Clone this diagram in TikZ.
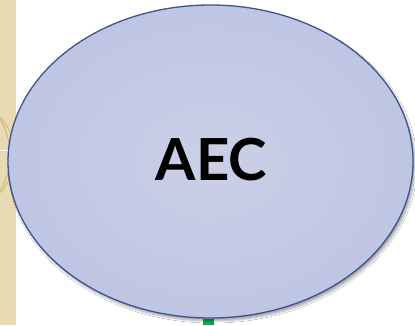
\documentclass[tikz,border=0pt]{standalone}
\usepackage{fontspec}
\setmainfont{Lato}
\usetikzlibrary{shapes.geometric,shadows.blur}
\definecolor{tanbg}{RGB}{232,218,178}
\definecolor{tanline}{RGB}{200,180,130}
\definecolor{ellfill}{RGB}{190,198,228}
\definecolor{ellcenter}{RGB}{203,208,230}
\definecolor{ellborder}{RGB}{62,84,142}
\definecolor{greenmark}{RGB}{0,176,80}
\tikzset{
  bubble/.style={ellipse, draw=ellborder, line width=1.3pt, inner color=ellcenter, outer color=ellfill,
    minimum width=405pt, minimum height=313pt, inner sep=0pt,
    blur shadow={shadow xshift=2pt, shadow yshift=-3pt, shadow blur steps=8, shadow opacity=35},
    font=\bfseries\fontsize{58}{58}\selectfont},
}
\begin{document}
\begin{tikzpicture}[x=1pt,y=1pt]
\useasboundingbox (0,0) rectangle (415,325);
\fill[white] (0,0) rectangle (415,325);
\begin{scope}
\clip (0,0) rectangle (16,325);
\fill[tanbg] (0,0) rectangle (16,325);
\draw[tanline, line width=0.8pt] (-60,170) circle (70);
\draw[tanline, line width=0.8pt] (-40,170) circle (55);
\draw[white, line width=1pt] (0,175) -- (16,175);
\end{scope}
\fill[greenmark] (203,0) rectangle (214,6);
\node[bubble] (aec) at (210.5,163.5) {};
\node[font=\bfseries\fontsize{58}{58}\selectfont] (label) at (211.5,165) {AEC};
\end{tikzpicture}
\end{document}
